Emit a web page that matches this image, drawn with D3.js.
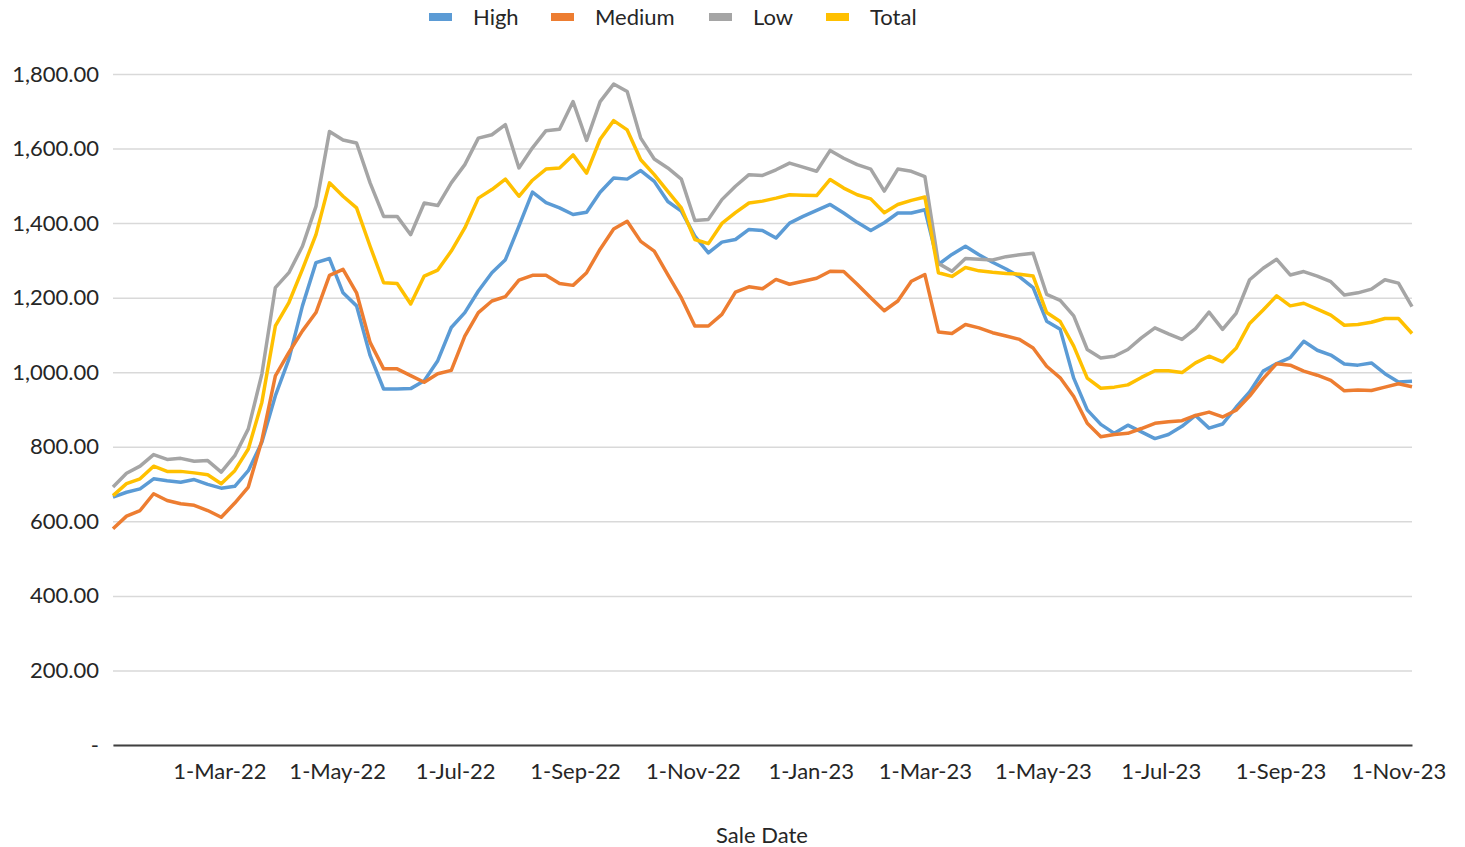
<!DOCTYPE html>
<html>
<head>
<meta charset="utf-8">
<script src="https://cdn.jsdelivr.net/npm/d3@7"></script>
<style>
  body { margin: 0; background: #fff; }
  svg { display: block; font-family: Lato, "Open Sans", sans-serif; }
</style>
</head>
<body>
<div id="chart"></div>
<script>
// weekly sale averages, first sale week 5-Jan-22
const firstSale = new Date(2022, 0, 5);

const high = [665, 678, 687, 714, 709, 705, 712, 699, 689, 694, 736, 812, 937, 1035, 1178, 1294, 1305, 1213, 1178, 1045,
  955, 955, 956, 977, 1031, 1120, 1160, 1218, 1267, 1302, 1392, 1483, 1455, 1441, 1423, 1429, 1483, 1521, 1518, 1541,
  1512, 1458, 1432, 1365, 1320, 1349, 1356, 1383, 1380, 1360, 1400, 1418, 1434, 1450, 1427, 1402, 1380, 1401, 1427, 1427,
  1436, 1289, 1316, 1338, 1315, 1295, 1277, 1256, 1227, 1137, 1115, 984, 899, 860, 836, 858, 840, 822, 833, 855,
  884, 850, 861, 906, 947, 1003, 1023, 1039, 1083, 1059, 1046, 1022, 1019, 1025, 996, 974, 976];

const medium = [580, 614, 629, 674, 656, 647, 643, 629, 611, 649, 692, 817, 990, 1053, 1111, 1160, 1260, 1276, 1213, 1080,
  1009, 1009, 991, 973, 996, 1005, 1097, 1160, 1191, 1203, 1247, 1260, 1260, 1238, 1233, 1267, 1330, 1384, 1405, 1351,
  1325, 1262, 1200, 1124, 1124, 1155, 1215, 1229, 1224, 1249, 1236, 1244, 1252, 1271, 1270, 1236, 1200, 1165, 1191, 1244,
  1262, 1108, 1104, 1128, 1119, 1106, 1097, 1088, 1065, 1016, 985, 935, 863, 827, 833, 836, 849, 863, 867, 870,
  884, 893, 880, 898, 936, 983, 1023, 1019, 1003, 992, 978, 950, 952, 951, 960, 969, 961];

const low = [692, 729, 748, 779, 766, 769, 761, 763, 732, 776, 848, 995, 1227, 1267, 1338, 1445, 1646, 1623, 1615, 1508,
  1418, 1418, 1369, 1454, 1447, 1508, 1557, 1628, 1637, 1664, 1548, 1602, 1648, 1652, 1726, 1622, 1726, 1773, 1753, 1628,
  1572, 1548, 1518, 1407, 1410, 1463, 1499, 1530, 1528, 1543, 1561, 1550, 1539, 1595, 1574, 1557, 1545, 1486, 1545, 1539,
  1525, 1292, 1271, 1305, 1303, 1301, 1310, 1315, 1319, 1209, 1193, 1151, 1061, 1038, 1043, 1061, 1092, 1119, 1103, 1088,
  1117, 1161, 1115, 1158, 1248, 1279, 1303, 1261, 1270, 1258, 1243, 1207, 1213, 1223, 1248, 1239, 1176];

const total = [669, 701, 714, 748, 734, 734, 730, 725, 701, 736, 794, 919, 1124, 1187, 1276, 1369, 1508, 1472, 1441, 1338,
  1240, 1238, 1183, 1258, 1274, 1325, 1387, 1467, 1490, 1518, 1472, 1515, 1545, 1548, 1583, 1534, 1625, 1675, 1650, 1570,
  1530, 1485, 1441, 1356, 1345, 1399, 1428, 1454, 1459, 1467, 1476, 1475, 1474, 1517, 1494, 1476, 1465, 1428, 1450, 1461,
  1470, 1267, 1257, 1281, 1272, 1268, 1265, 1263, 1258, 1160, 1136, 1070, 984, 957, 960, 966, 986, 1004, 1004, 999,
  1025, 1043, 1028, 1064, 1131, 1167, 1205, 1178, 1185, 1169, 1153, 1126, 1128, 1134, 1144, 1144, 1104];

const seriesNames = ["High", "Medium", "Low", "Total"];
const seriesColors = ["#5B9BD5", "#ED7D31", "#A5A5A5", "#FFC000"];
const tickLabels = ["2022-03-01", "2022-05-01", "2022-07-01", "2022-09-01", "2022-11-01", "2023-01-01",
  "2023-03-01", "2023-05-01", "2023-07-01", "2023-09-01", "2023-11-01"];
const yTicks = [0, 200, 400, 600, 800, 1000, 1200, 1400, 1600, 1800];

const width = 1465, height = 847;
const margin = { top: 74, right: 53, bottom: 102, left: 113 };
const fontSize = "22px";
const textColor = "#262626";

const saleDates = high.map((_, i) => d3.timeDay.offset(firstSale, 7 * i));
const series = [high, medium, low, total].map((values, k) => ({
  name: seriesNames[k],
  color: seriesColors[k],
  points: values.map((v, i) => ({ date: saleDates[i], value: v }))
}));

const x = d3.scaleTime()
  .domain(d3.extent(saleDates))
  .range([margin.left, width - margin.right]);

const y = d3.scaleLinear()
  .domain([0, 1800])
  .range([height - margin.bottom, margin.top]);

const svg = d3.select("#chart")
  .append("svg")
  .attr("width", width)
  .attr("height", height);

// horizontal gridlines + y labels
const yAxis = d3.axisLeft(y)
  .tickValues(yTicks)
  .tickSize(-(width - margin.left - margin.right))
  .tickPadding(14)
  .tickFormat((d) => (d === 0 ? "-" : d3.format(",.2f")(d)));

svg.append("g")
  .attr("transform", `translate(${margin.left},0)`)
  .call(yAxis)
  .call((g) => g.select(".domain").remove())
  .call((g) => g.selectAll(".tick line").attr("stroke", "#D9D9D9").attr("stroke-width", 1.5))
  .call((g) => g.selectAll(".tick text")
    .attr("fill", textColor)
    .attr("font-size", fontSize)
    .attr("font-family", "Lato, sans-serif"));

// x axis, no tick marks
const xAxis = d3.axisBottom(x)
  .tickValues(tickLabels.map((d) => d3.timeParse("%Y-%m-%d")(d)))
  .tickSize(0)
  .tickPadding(18)
  .tickFormat(d3.timeFormat("%-d-%b-%y"));

svg.append("g")
  .attr("transform", `translate(0,${height - margin.bottom})`)
  .call(xAxis)
  .call((g) => g.select(".domain").attr("stroke", "#404040").attr("stroke-width", 2))
  .call((g) => g.selectAll(".tick text")
    .attr("fill", textColor)
    .attr("font-size", fontSize)
    .attr("font-family", "Lato, sans-serif"));

// lines
const line = d3.line()
  .x((d) => x(d.date))
  .y((d) => y(d.value));

svg.append("g")
  .selectAll("path")
  .data(series)
  .join("path")
  .attr("fill", "none")
  .attr("stroke", (d) => d.color)
  .attr("stroke-width", 3.5)
  .attr("stroke-linejoin", "round")
  .attr("d", (d) => line(d.points));

// legend
const legendX = [429, 551, 709, 826];
const legend = svg.append("g")
  .selectAll("g")
  .data(series)
  .join("g")
  .attr("transform", (d, i) => `translate(${legendX[i]},17)`);

legend.append("rect")
  .attr("x", 0)
  .attr("y", -4)
  .attr("width", 23)
  .attr("height", 8)
  .attr("fill", (d) => d.color);

legend.append("text")
  .attr("x", 44)
  .attr("dy", "0.35em")
  .attr("fill", textColor)
  .attr("font-size", fontSize)
  .text((d) => d.name);

// axis title
svg.append("text")
  .attr("x", 762)
  .attr("y", 835)
  .attr("dy", "0.35em")
  .attr("text-anchor", "middle")
  .attr("fill", textColor)
  .attr("font-size", fontSize)
  .text("Sale Date");
</script>
</body>
</html>
